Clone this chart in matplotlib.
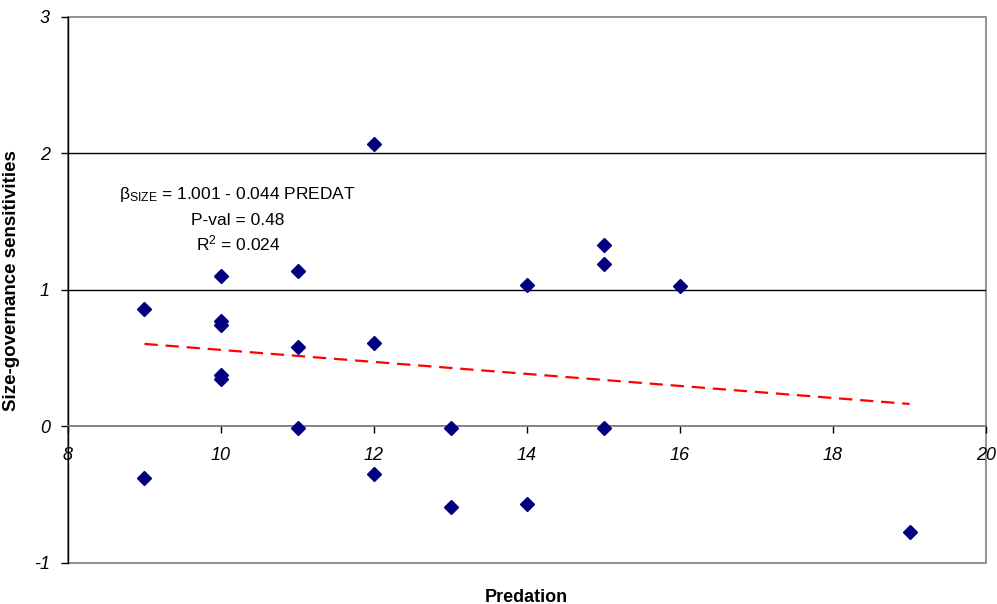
import numpy as np
import matplotlib.pyplot as plt
from matplotlib.patches import Rectangle

plt.rcParams['font.family'] = ['Liberation Sans', 'DejaVu Sans']
plt.rcParams['mathtext.fontset'] = 'custom'
plt.rcParams['mathtext.rm'] = 'Liberation Sans'
plt.rcParams['mathtext.it'] = 'Liberation Sans:italic'
plt.rcParams['axes.unicode_minus'] = False

# predation score vs size-governance sensitivity
predation = [9, 9,
             10, 10, 10, 10, 10,
             11, 11, 11,
             12, 12, 12,
             13, 13,
             14, 14,
             15, 15, 15,
             16,
             19]
sensitivity = [0.86, -0.38,
               1.10, 0.77, 0.74, 0.38, 0.35,
               1.14, 0.58, -0.01,
               2.07, 0.61, -0.35,
               -0.01, -0.59,
               1.04, -0.57,
               1.33, 1.19, -0.01,
               1.03,
               -0.77]

# fitted line reported on the chart
intercept, slope = 1.001, -0.044
x_ticks = [8, 10, 12, 14, 16, 18, 20]
y_ticks = [-1, 0, 1, 2, 3]

fig = plt.figure(figsize=(9.97, 6.04), dpi=100)
ax = fig.add_axes([0.0682, 0.0679, 0.9208, 0.904])

ax.set_xlim(8, 20)
ax.set_ylim(-1, 3)

# plot-area border in grey, grid lines in black
ax.add_patch(Rectangle((0, 0), 1, 1, transform=ax.transAxes, fill=False,
                       edgecolor='#808080', lw=1.2, zorder=1, clip_on=False))
for g in (1, 2):
    ax.axhline(g, color='black', lw=1.0, zorder=1)

xs = np.array([min(predation), max(predation)])
ax.plot(xs, intercept + slope * xs, color='red', ls=(0, (6, 3.5)), lw=1.6, zorder=2)
ax.plot(predation, sensitivity, ls='none', marker='D', ms=7.5,
        color='#000080', mec='#000080', zorder=3)

for s in ('top', 'right'):
    ax.spines[s].set_visible(False)
ax.spines['bottom'].set_position(('data', 0))
ax.spines['bottom'].set_color('#707070')
ax.spines['bottom'].set_linewidth(1.2)
ax.spines['left'].set_color('black')
ax.spines['left'].set_linewidth(1.0)

ax.set_xticks(x_ticks)
ax.set_yticks(y_ticks)
ax.tick_params(axis='x', direction='out', length=5, width=1, pad=10,
               labelsize=13)
ax.tick_params(axis='y', direction='out', length=5, width=1, pad=8,
               labelsize=13)
for lab in ax.get_xticklabels() + ax.get_yticklabels():
    lab.set_fontstyle('italic')

ax.set_xlabel('Predation', fontsize=13, fontweight='bold')
ax.xaxis.set_label_coords(0.499, -0.047)
ax.set_ylabel('Size-governance sensitivities', fontsize=13.5, fontweight='bold')
ax.yaxis.set_label_coords(-0.052, 0.518)

ax.text(10.22, 1.70, r'β$_{\mathrm{SIZE}}$ = 1.001 - 0.044 PREDAT',
        ha='center', va='center', fontsize=12.5)
ax.text(10.22, 1.51, 'P-val = 0.48', ha='center', va='center', fontsize=12.5)
ax.text(10.22, 1.34, r'R$^{2}$ = 0.024', ha='center', va='center', fontsize=12.5)

fig.savefig('out.png', dpi=100)
